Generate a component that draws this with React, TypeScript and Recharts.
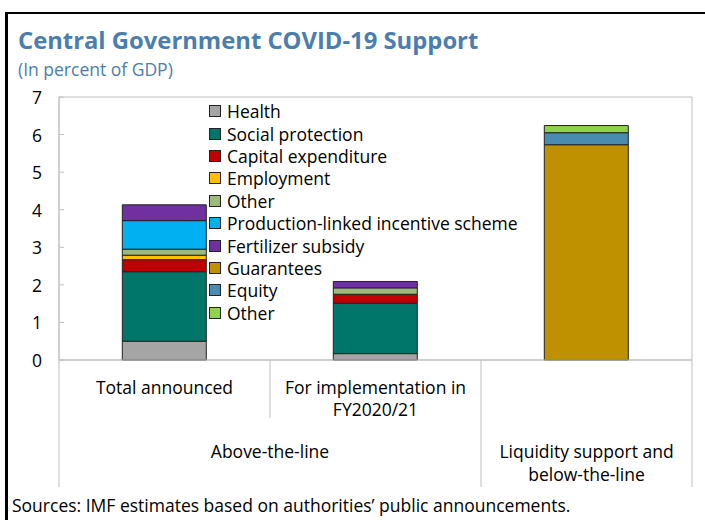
import React from 'react';
import {
  Bar,
  BarChart,
  Legend,
  ReferenceArea,
  XAxis,
  YAxis,
} from 'recharts';

const categories = ['Total announced', 'For implementation in FY2020/21', 'Liquidity support'];
const categoryLines = [['Total announced'], ['For implementation in', 'FY2020/21'], []];

const groups = [
  { lines: ['Above-the-line'], start: 0, span: 2 },
  { lines: ['Liquidity support and', 'below-the-line'], start: 2, span: 1 },
];

const health = [0.5, 0.17, 0];
const social = [1.85, 1.34, 0];
const capital = [0.32, 0.24, 0];
const employment = [0.12, 0, 0];
const otherAbove = [0.16, 0.17, 0];
const pli = [0.76, 0, 0];
const fertilizer = [0.42, 0.17, 0];
const guarantees = [0, 0, 5.73];
const equity = [0, 0, 0.32];
const otherBelow = [0, 0, 0.19];

const yTicks = [0, 1, 2, 3, 4, 5, 6, 7];

const series = [
  { key: 'health', name: 'Health', values: health, color: '#A5A5A5' },
  { key: 'social', name: 'Social protection', values: social, color: '#00756A' },
  { key: 'capital', name: 'Capital expenditure', values: capital, color: '#C00000' },
  { key: 'employment', name: 'Employment', values: employment, color: '#FFC000' },
  { key: 'otherAbove', name: 'Other', values: otherAbove, color: '#9BBB7C' },
  { key: 'pli', name: 'Production-linked incentive scheme', values: pli, color: '#00B0F0' },
  { key: 'fertilizer', name: 'Fertilizer subsidy', values: fertilizer, color: '#7030A0' },
  { key: 'guarantees', name: 'Guarantees', values: guarantees, color: '#BF9000' },
  { key: 'equity', name: 'Equity', values: equity, color: '#4A8BB0' },
  { key: 'otherBelow', name: 'Other', values: otherBelow, color: '#92D050' },
];

const data = categories.map((name, i) => {
  const row: any = { name };
  series.forEach((s) => {
    row[s.key] = s.values[i];
  });
  return row;
});

const FONT = '"Open Sans", sans-serif';
const FS = 17.5;
const BLUE = '#4A7EAE';
const GRID = '#BFBFBF';

const W = 705;
const H = 490;
const M = { top: 97, right: 13, left: 0, bottom: 0 };
const Y_W = 59;
const X_H = 130;
const BAND = (W - M.left - M.right - Y_W) / categories.length;

const YTick = (props: any) => {
  const { x, y, payload } = props;
  return (
    <g>
      <line x1={x} x2={x + 5} y1={y} y2={y} stroke={GRID} />
      <text x={x - 17} y={y} textAnchor="end" dominantBaseline="central" fontSize={FS} fontFamily={FONT} fill="#000">
        {payload.value}
      </text>
    </g>
  );
};

const CatTick = (props: any) => {
  const { x, y, index } = props;
  const left = x - BAND / 2;
  const isGroupEdge = groups.some((g) => g.start === index);
  const lines = categoryLines[index] || [];
  const group = groups.find((g) => g.start === index);
  return (
    <g>
      <line x1={left} x2={left} y1={y} y2={y + (isGroupEdge ? 127 : 58)} stroke={GRID} />
      {index === categories.length - 1 && (
        <line x1={left + BAND} x2={left + BAND} y1={y} y2={y + 127} stroke={GRID} />
      )}
      {lines.map((l, i) => (
        <text key={i} x={x} y={y + 27 + i * 22} textAnchor="middle" dominantBaseline="central" fontSize={FS} fontFamily={FONT} fill="#000">
          {l}
        </text>
      ))}
      {group &&
        group.lines.map((l, i) => (
          <text key={'g' + i} x={left + (group.span * BAND) / 2} y={y + 91 + i * 23} textAnchor="middle" dominantBaseline="central" fontSize={FS} fontFamily={FONT} fill="#000">
            {l}
          </text>
        ))}
    </g>
  );
};

const LegendBox = () => (
  <div style={{ fontFamily: FONT, fontSize: FS, color: '#000' }}>
    {series.map((s) => (
      <div key={s.key} style={{ display: 'flex', alignItems: 'center', height: 22.4 }}>
        <span style={{ display: 'inline-block', width: 10, height: 10, background: s.color, border: '1px solid #222', marginRight: 6 }} />
        <span>{s.name}</span>
      </div>
    ))}
  </div>
);

export default function App() {
  return (
    <div style={{ position: 'absolute', left: 0, top: 0, width: W, height: 520, background: '#fff', overflow: 'hidden' }}>
      <div style={{ position: 'absolute', left: 5, top: 12, width: 705, height: 520, borderTop: '2px solid #000', borderLeft: '3px solid #000' }} />
      <div style={{ position: 'absolute', left: 18, top: 24, fontFamily: FONT, fontWeight: 700, fontSize: 23.8, color: BLUE, whiteSpace: 'nowrap' }}>
        Central Government COVID-19 Support
      </div>
      <div style={{ position: 'absolute', left: 18, top: 57, fontFamily: FONT, fontSize: 17.5, color: BLUE, whiteSpace: 'nowrap' }}>
        (In percent of GDP)
      </div>
      <div style={{ position: 'absolute', left: 0, top: 0 }}>
        <BarChart width={W} height={H} data={data} margin={M} barCategoryGap="30%">
          <ReferenceArea y1={0} y2={7} fill="none" stroke={GRID} ifOverflow="visible" />
          <XAxis
            dataKey="name"
            interval={0}
            height={X_H}
            tickSize={0}
            tickMargin={0}
            tickLine={false}
            axisLine={{ stroke: GRID }}
            tick={<CatTick />}
          />
          <YAxis
            domain={[0, 7]}
            ticks={yTicks}
            width={Y_W}
            tickSize={0}
            tickMargin={0}
            tickLine={false}
            axisLine={{ stroke: GRID }}
            tick={<YTick />}
          />
          <Legend
            layout="vertical"
            align="center"
            verticalAlign="middle"
            content={() => <LegendBox />}
            wrapperStyle={{ left: 209, top: 100, width: 340 }}
          />
          {series.map((s) => (
            <Bar
              key={s.key}
              dataKey={s.key}
              name={s.name}
              stackId="a"
              fill={s.color}
              stroke="#222"
              strokeWidth={1}
              isAnimationActive={false}
            />
          ))}
        </BarChart>
      </div>
      <div style={{ position: 'absolute', left: 12, top: 493, fontFamily: FONT, fontSize: FS, color: '#000', whiteSpace: 'nowrap' }}>
        Sources: IMF estimates based on authorities’ public announcements.
      </div>
    </div>
  );
}
